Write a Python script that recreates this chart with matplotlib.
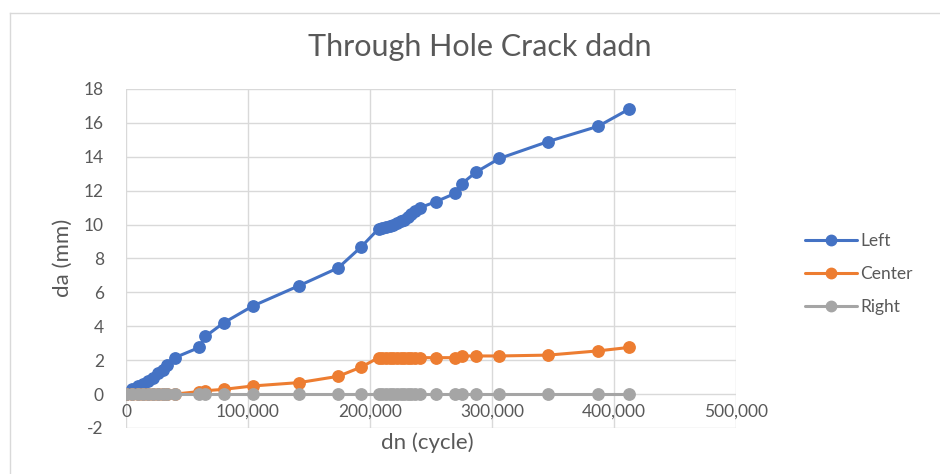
import matplotlib
matplotlib.use("Agg")
import matplotlib.pyplot as plt
from matplotlib.ticker import FuncFormatter, MultipleLocator
from matplotlib.lines import Line2D

# ---- data ----
cycles = [0, 5000, 10000, 14000, 18000, 22000, 26000, 30000, 34000, 40000,
          60000, 65000, 80000, 104000, 142000, 174000, 193000,
          207000, 210000, 213000, 216000, 219000, 222000, 225000, 228000,
          231000, 234000, 237000, 241000, 254000, 270000, 275000, 287000,
          306000, 346000, 387000, 412000]
left = [0.0, 0.3, 0.45, 0.6, 0.75, 0.95, 1.25, 1.45, 1.7, 2.15,
        2.75, 3.4, 4.2, 5.2, 6.4, 7.45, 8.7,
        9.75, 9.8, 9.85, 9.9, 10.0, 10.1, 10.2, 10.3,
        10.45, 10.6, 10.8, 11.0, 11.35, 11.85, 12.4, 13.1,
        13.9, 14.9, 15.8, 16.8]
center = [0, 0, 0, 0, 0, 0, 0, 0, 0, 0,
          0.15, 0.2, 0.28, 0.48, 0.68, 1.05, 1.6,
          2.15, 2.15, 2.15, 2.15, 2.15, 2.15, 2.15, 2.15,
          2.15, 2.15, 2.15, 2.15, 2.15, 2.15, 2.25, 2.25,
          2.25, 2.3, 2.55, 2.75]
right = [0] * len(cycles)
series_names = ["Left", "Center", "Right"]
colors = ["#4472C4", "#ED7D31", "#A5A5A5"]

title = "Through Hole Crack dadn"
xlabel = "dn (cycle)"
ylabel = "da (mm)"

plt.rcParams['font.family'] = ['Lato', 'DejaVu Sans']
txt = "#595959"
grid = "#D9D9D9"

fig = plt.figure(figsize=(9.4, 4.74), dpi=100)
W, H = 940, 474
ax = fig.add_axes([126 / W, 1 - 428 / H, (736 - 126) / W, (428 - 89) / H])

for vals, name, c in zip([left, center, right], series_names, colors):
    ax.plot(cycles, vals, color=c, lw=2.2, marker='o', markersize=8.2,
            label=name, solid_capstyle='round', zorder=3)

ax.set_xlim(0, 500000)
ax.set_ylim(-2, 18)
ax.xaxis.set_major_locator(MultipleLocator(100000))
ax.yaxis.set_major_locator(MultipleLocator(2))
ax.xaxis.set_major_formatter(FuncFormatter(lambda v, p: f"{v:,.0f}"))
ax.yaxis.set_major_formatter(FuncFormatter(lambda v, p: f"{v:.0f}"))
ax.grid(True, color=grid, lw=1.0, zorder=0)
ax.set_axisbelow(True)
for s in ax.spines.values():
    s.set_visible(False)
ax.spines['bottom'].set_position(('data', 0))
ax.tick_params(axis='x', length=0, pad=7, labelsize=12.5, labelcolor=txt)
ax.tick_params(axis='y', length=0, pad=16, labelsize=12.5, labelcolor=txt)

fig.text(480 / W, 1 - 47 / H, title, ha='center', va='center', fontsize=22, color=txt)
fig.text(427 / W, 1 - 443 / H, xlabel, ha='center', va='center', fontsize=16, color=txt)
fig.text(63 / W, 1 - 258 / H, ylabel, ha='center', va='center', rotation=90,
         fontsize=16, color=txt)

leg = ax.legend(loc='center left', bbox_to_anchor=(805 / W, 1 - 274 / H),
                bbox_transform=fig.transFigure, frameon=False, fontsize=12.5,
                handlelength=3.0, handletextpad=0.2, labelspacing=1.0,
                borderpad=0, borderaxespad=0)
for t in leg.get_texts():
    t.set_color(txt)
for h in leg.legend_handles:
    h.set_markersize(7.5)

# chart area border (top and left)
fig.add_artist(Line2D([10 / W, 10 / W], [0, 1 - 13 / H], transform=fig.transFigure,
                      color="#D9D9D9", lw=1.0))
fig.add_artist(Line2D([10 / W, 1], [1 - 13 / H, 1 - 13 / H], transform=fig.transFigure,
                      color="#D9D9D9", lw=1.0))

fig.savefig("out.png", dpi=100)
